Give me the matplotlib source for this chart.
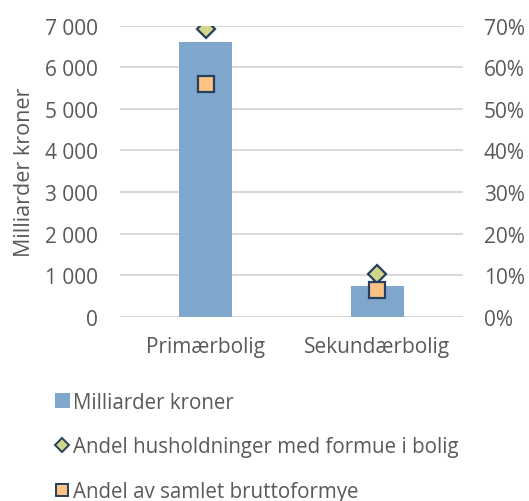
"""Bolig: milliarder kroner og andeler, primær- og sekundærbolig."""
import numpy as np
import matplotlib.pyplot as plt
from matplotlib.lines import Line2D
from matplotlib.patches import Patch

plt.rcParams['font.family'] = ['Open Sans', 'DejaVu Sans']

# data
categories = ['Primærbolig', 'Sekundærbolig']
mrd_kroner = [6610, 750]
andel_husholdninger = [69.3, 10.3]   # prosent
andel_bruttoformue = [56.0, 6.5]     # prosent
yticks_left = [0, 1000, 2000, 3000, 4000, 5000, 6000, 7000]
yticks_right = [0, 10, 20, 30, 40, 50, 60, 70]

text_col = '#595959'
bar_col = '#7FA7CB'
edge_col = '#243F5F'

fig = plt.figure(figsize=(5.29, 5.02), dpi=100)
ax = fig.add_axes([0.2268, 0.367, 0.6484, 0.58])
ax2 = ax.twinx()

x = np.arange(len(categories))
ax.bar(x, mrd_kroner, width=0.31, color=bar_col, zorder=2)
ax.set_xlim(-0.5, 1.5)
ax.set_ylim(0, 7000)
ax.set_yticks(yticks_left)
ax.set_yticklabels(['{:,}'.format(v).replace(',', ' ') for v in yticks_left])
ax.set_xticks(x)
ax.set_xticklabels(categories)
ax.grid(axis='y', color='#d9d9d9', linewidth=1.5, zorder=0)
ax.set_axisbelow(True)
ax.set_ylabel('Milliarder kroner', fontsize=15.5, color=text_col, labelpad=7)

ax2.plot(x, andel_husholdninger, ls='none', marker='D', markersize=9,
         markerfacecolor='#D3D68A', markeredgecolor=edge_col, markeredgewidth=1.6, zorder=3)
ax2.plot(x, andel_bruttoformue, ls='none', marker='s', markersize=11.5,
         markerfacecolor='#FFC285', markeredgecolor=edge_col, markeredgewidth=1.6, zorder=3)
ax2.set_ylim(0, 70)
ax2.set_yticks(yticks_right)
ax2.set_yticklabels(['{}%'.format(v) for v in yticks_right])

for a in (ax, ax2):
    for s in a.spines.values():
        s.set_visible(False)
    a.tick_params(length=0, labelsize=15, colors=text_col)
ax.tick_params(axis='y', pad=16)
ax.tick_params(axis='x', pad=14)
ax2.tick_params(axis='y', pad=15)

handles = [
    Patch(facecolor=bar_col, edgecolor='none'),
    Line2D([], [], ls='none', marker='D', markersize=7, markerfacecolor='#D3D68A',
           markeredgecolor=edge_col, markeredgewidth=1.4),
    Line2D([], [], ls='none', marker='s', markersize=9, markerfacecolor='#FFC285',
           markeredgecolor=edge_col, markeredgewidth=1.4),
]
labels = ['Milliarder kroner', 'Andel husholdninger med formue i bolig',
          'Andel av samlet bruttoformye']
fig.legend(handles, labels, loc='upper left', bbox_to_anchor=(0.089, 0.234),
           frameon=False, fontsize=14.8, labelcolor=text_col, labelspacing=1.15,
           handlelength=0.7, handletextpad=0.15, borderaxespad=0)

fig.savefig('out.png', dpi=100)
